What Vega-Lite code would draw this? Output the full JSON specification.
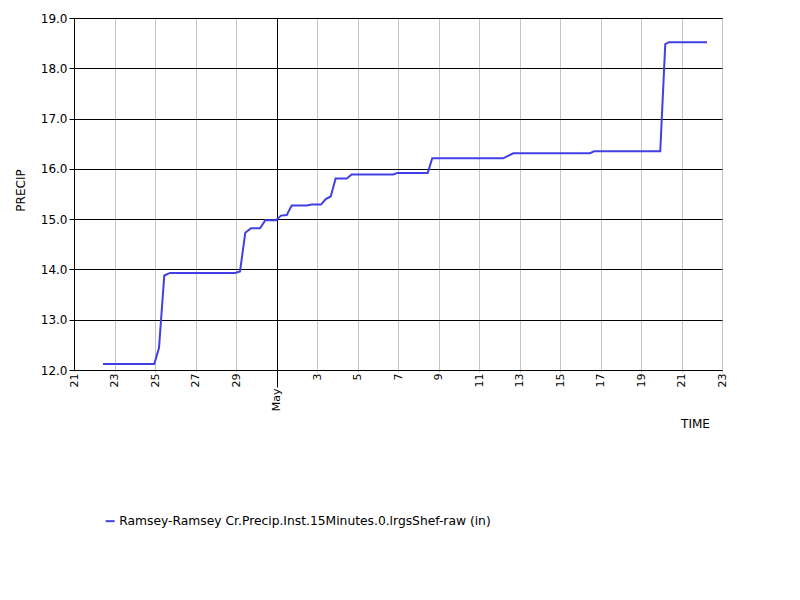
{
  "$schema": "https://vega.github.io/schema/vega-lite/v6.json",
  "width": 648,
  "height": 352,
  "autosize": "none",
  "padding": {"left": 74, "top": 18, "right": 78, "bottom": 230},
  "background": "white",
  "config": {
    "font": "DejaVu Sans",
    "view": {"stroke": "black", "strokeWidth": 1}
  },
  "data": {
    "values": [
      {"t": "2023-04-22T10:22:00Z", "v": 12.12, "s": "Ramsey-Ramsey Cr.Precip.Inst.15Minutes.0.lrgsShef-raw (in)"},
      {"t": "2023-04-24T23:10:00Z", "v": 12.12, "s": "Ramsey-Ramsey Cr.Precip.Inst.15Minutes.0.lrgsShef-raw (in)"},
      {"t": "2023-04-25T04:45:00Z", "v": 12.44, "s": "Ramsey-Ramsey Cr.Precip.Inst.15Minutes.0.lrgsShef-raw (in)"},
      {"t": "2023-04-25T11:00:00Z", "v": 13.88, "s": "Ramsey-Ramsey Cr.Precip.Inst.15Minutes.0.lrgsShef-raw (in)"},
      {"t": "2023-04-25T17:45:00Z", "v": 13.93, "s": "Ramsey-Ramsey Cr.Precip.Inst.15Minutes.0.lrgsShef-raw (in)"},
      {"t": "2023-04-28T22:50:00Z", "v": 13.93, "s": "Ramsey-Ramsey Cr.Precip.Inst.15Minutes.0.lrgsShef-raw (in)"},
      {"t": "2023-04-29T04:45:00Z", "v": 13.96, "s": "Ramsey-Ramsey Cr.Precip.Inst.15Minutes.0.lrgsShef-raw (in)"},
      {"t": "2023-04-29T11:00:00Z", "v": 14.73, "s": "Ramsey-Ramsey Cr.Precip.Inst.15Minutes.0.lrgsShef-raw (in)"},
      {"t": "2023-04-29T17:45:00Z", "v": 14.82, "s": "Ramsey-Ramsey Cr.Precip.Inst.15Minutes.0.lrgsShef-raw (in)"},
      {"t": "2023-04-30T04:30:00Z", "v": 14.82, "s": "Ramsey-Ramsey Cr.Precip.Inst.15Minutes.0.lrgsShef-raw (in)"},
      {"t": "2023-04-30T10:45:00Z", "v": 14.98, "s": "Ramsey-Ramsey Cr.Precip.Inst.15Minutes.0.lrgsShef-raw (in)"},
      {"t": "2023-04-30T23:25:00Z", "v": 14.98, "s": "Ramsey-Ramsey Cr.Precip.Inst.15Minutes.0.lrgsShef-raw (in)"},
      {"t": "2023-05-01T05:20:00Z", "v": 15.07, "s": "Ramsey-Ramsey Cr.Precip.Inst.15Minutes.0.lrgsShef-raw (in)"},
      {"t": "2023-05-01T12:05:00Z", "v": 15.08, "s": "Ramsey-Ramsey Cr.Precip.Inst.15Minutes.0.lrgsShef-raw (in)"},
      {"t": "2023-05-01T18:00:00Z", "v": 15.27, "s": "Ramsey-Ramsey Cr.Precip.Inst.15Minutes.0.lrgsShef-raw (in)"},
      {"t": "2023-05-02T11:45:00Z", "v": 15.27, "s": "Ramsey-Ramsey Cr.Precip.Inst.15Minutes.0.lrgsShef-raw (in)"},
      {"t": "2023-05-02T17:45:00Z", "v": 15.29, "s": "Ramsey-Ramsey Cr.Precip.Inst.15Minutes.0.lrgsShef-raw (in)"},
      {"t": "2023-05-03T04:45:00Z", "v": 15.29, "s": "Ramsey-Ramsey Cr.Precip.Inst.15Minutes.0.lrgsShef-raw (in)"},
      {"t": "2023-05-03T10:20:00Z", "v": 15.40, "s": "Ramsey-Ramsey Cr.Precip.Inst.15Minutes.0.lrgsShef-raw (in)"},
      {"t": "2023-05-03T16:15:00Z", "v": 15.45, "s": "Ramsey-Ramsey Cr.Precip.Inst.15Minutes.0.lrgsShef-raw (in)"},
      {"t": "2023-05-03T22:05:00Z", "v": 15.81, "s": "Ramsey-Ramsey Cr.Precip.Inst.15Minutes.0.lrgsShef-raw (in)"},
      {"t": "2023-05-04T11:15:00Z", "v": 15.81, "s": "Ramsey-Ramsey Cr.Precip.Inst.15Minutes.0.lrgsShef-raw (in)"},
      {"t": "2023-05-04T17:05:00Z", "v": 15.89, "s": "Ramsey-Ramsey Cr.Precip.Inst.15Minutes.0.lrgsShef-raw (in)"},
      {"t": "2023-05-06T18:25:00Z", "v": 15.89, "s": "Ramsey-Ramsey Cr.Precip.Inst.15Minutes.0.lrgsShef-raw (in)"},
      {"t": "2023-05-06T23:10:00Z", "v": 15.92, "s": "Ramsey-Ramsey Cr.Precip.Inst.15Minutes.0.lrgsShef-raw (in)"},
      {"t": "2023-05-08T11:15:00Z", "v": 15.92, "s": "Ramsey-Ramsey Cr.Precip.Inst.15Minutes.0.lrgsShef-raw (in)"},
      {"t": "2023-05-08T16:35:00Z", "v": 16.21, "s": "Ramsey-Ramsey Cr.Precip.Inst.15Minutes.0.lrgsShef-raw (in)"},
      {"t": "2023-05-12T04:45:00Z", "v": 16.21, "s": "Ramsey-Ramsey Cr.Precip.Inst.15Minutes.0.lrgsShef-raw (in)"},
      {"t": "2023-05-12T16:35:00Z", "v": 16.31, "s": "Ramsey-Ramsey Cr.Precip.Inst.15Minutes.0.lrgsShef-raw (in)"},
      {"t": "2023-05-16T11:30:00Z", "v": 16.31, "s": "Ramsey-Ramsey Cr.Precip.Inst.15Minutes.0.lrgsShef-raw (in)"},
      {"t": "2023-05-16T16:20:00Z", "v": 16.35, "s": "Ramsey-Ramsey Cr.Precip.Inst.15Minutes.0.lrgsShef-raw (in)"},
      {"t": "2023-05-19T22:50:00Z", "v": 16.35, "s": "Ramsey-Ramsey Cr.Precip.Inst.15Minutes.0.lrgsShef-raw (in)"},
      {"t": "2023-05-20T04:45:00Z", "v": 18.48, "s": "Ramsey-Ramsey Cr.Precip.Inst.15Minutes.0.lrgsShef-raw (in)"},
      {"t": "2023-05-20T09:10:00Z", "v": 18.52, "s": "Ramsey-Ramsey Cr.Precip.Inst.15Minutes.0.lrgsShef-raw (in)"},
      {"t": "2023-05-22T06:15:00Z", "v": 18.52, "s": "Ramsey-Ramsey Cr.Precip.Inst.15Minutes.0.lrgsShef-raw (in)"}
    ]
  },
  "mark": {"type": "line", "strokeWidth": 2, "clip": true},
  "encoding": {
    "x": {
      "field": "t",
      "type": "temporal",
      "scale": {
        "type": "utc",
        "domain": [
          {"year": 2023, "month": 4, "date": 21, "utc": true},
          {"year": 2023, "month": 5, "date": 23, "utc": true}
        ]
      },
      "axis": {
        "title": "TIME",
        "titleFont": "DejaVu Sans",
        "titleFontSize": 12,
        "titleFontWeight": "normal",
        "titleColor": "black",
        "titleX": 621,
        "titleY": 53,
        "titleAlign": "center",
        "titleBaseline": "middle",
        "values": [
          {"year": 2023, "month": 4, "date": 21, "utc": true},
          {"year": 2023, "month": 4, "date": 23, "utc": true},
          {"year": 2023, "month": 4, "date": 25, "utc": true},
          {"year": 2023, "month": 4, "date": 27, "utc": true},
          {"year": 2023, "month": 4, "date": 29, "utc": true},
          {"year": 2023, "month": 5, "date": 1, "utc": true},
          {"year": 2023, "month": 5, "date": 3, "utc": true},
          {"year": 2023, "month": 5, "date": 5, "utc": true},
          {"year": 2023, "month": 5, "date": 7, "utc": true},
          {"year": 2023, "month": 5, "date": 9, "utc": true},
          {"year": 2023, "month": 5, "date": 11, "utc": true},
          {"year": 2023, "month": 5, "date": 13, "utc": true},
          {"year": 2023, "month": 5, "date": 15, "utc": true},
          {"year": 2023, "month": 5, "date": 17, "utc": true},
          {"year": 2023, "month": 5, "date": 19, "utc": true},
          {"year": 2023, "month": 5, "date": 21, "utc": true},
          {"year": 2023, "month": 5, "date": 23, "utc": true}
        ],
        "labelExpr": "utcdate(datum.value) == 1 && utcmonth(datum.value) == 4 ? 'May' : '' + utcdate(datum.value)",
        "labelAngle": -90,
        "labelAlign": "right",
        "labelBaseline": "middle",
        "labelFont": "DejaVu Sans",
        "labelFontSize": 11,
        "labelColor": "black",
        "labelOverlap": false,
        "labelFlush": false,
        "labelPadding": 1,
        "domainColor": "black",
        "grid": true,
        "gridColor": {"condition": {"test": "utcdate(datum.value) == 1 && utcmonth(datum.value) == 4", "value": "black"}, "value": "#c4c4c4"},
        "gridOpacity": 1,
        "tickColor": {"condition": {"test": "utcdate(datum.value) == 1 && utcmonth(datum.value) == 4", "value": "black"}, "value": "#c4c4c4"},
        "tickSize": {"condition": {"test": "utcdate(datum.value) == 1 && utcmonth(datum.value) == 4", "value": 17}, "value": 2}
      }
    },
    "y": {
      "field": "v",
      "type": "quantitative",
      "scale": {"domain": [12, 19], "nice": false, "zero": false},
      "axis": {
        "title": "PRECIP",
        "titleFont": "DejaVu Sans",
        "titleFontSize": 12,
        "titleFontWeight": "normal",
        "titleColor": "black",
        "titleX": -54,
        "titleY": 172,
        "titleAngle": -90,
        "titleAlign": "center",
        "titleBaseline": "middle",
        "values": [12, 13, 14, 15, 16, 17, 18, 19],
        "format": ".1f",
        "labelFont": "DejaVu Sans",
        "labelFontSize": 12,
        "labelColor": "black",
        "labelPadding": 2,
        "labelFlush": false,
        "labelOverlap": false,
        "domainColor": "black",
        "grid": true,
        "gridColor": "black",
        "gridOpacity": 1,
        "tickColor": "black",
        "tickSize": 5
      }
    },
    "color": {
      "field": "s",
      "type": "nominal",
      "scale": {"range": ["#4040e6"]},
      "legend": {
        "title": null,
        "orient": "none",
        "legendX": 30,
        "legendY": 497,
        "symbolType": "stroke",
        "symbolSize": 81,
        "symbolStrokeWidth": 2,
        "labelFont": "DejaVu Sans",
        "labelFontSize": 12.3,
        "labelColor": "black",
        "labelOffset": 3,
        "labelLimit": 0
      }
    }
  }
}
